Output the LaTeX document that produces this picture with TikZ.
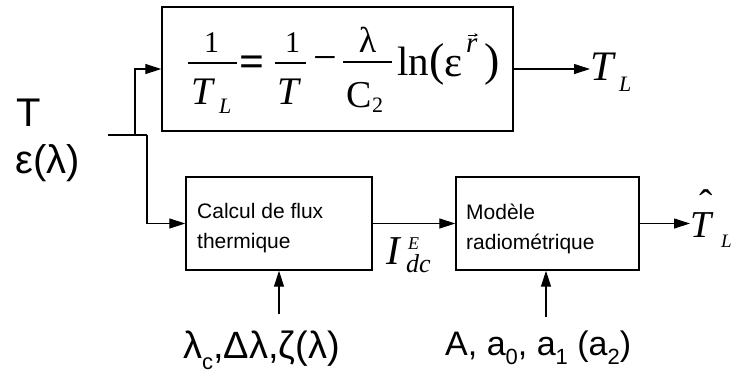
\documentclass[tikz,border=0pt]{standalone}
\usepackage{fontspec}
\setmainfont{Liberation Sans}
\newfontfamily\tms{Liberation Serif}
\usetikzlibrary{arrows.meta}
\newcommand{\fsz}[1]{\fontsize{#1}{#1}\selectfont}
\newcommand{\lowsub}[3]{\raisebox{-#2pt}{\fontsize{#1}{#1}\selectfont #3}}
\begin{document}
\begin{tikzpicture}[x=1pt,y=-1pt,
  boxstyle/.style={draw, line width=1.4pt, minimum height=93pt, inner sep=0pt},
  boxtext/.style={inner sep=0pt, anchor=base west, font=\fontsize{21}{21}\selectfont},
  wire/.style={line width=1.1pt},
  conn/.style={line width=1.1pt, -{Triangle[length=16pt,width=10pt]}},
  fbar/.style={line width=1.8pt},
  lbl/.style={inner sep=0pt},
  ml/.style={inner sep=0pt, anchor=base west},
  mc/.style={inner sep=0pt, anchor=base}]
\useasboundingbox (0,0) rectangle (737,376);

% top box and its formula
\node[draw, line width=1.4pt, minimum width=351pt, minimum height=124pt, inner sep=0pt] (eq) at (337.5,69) {};
\node[mc] (n1) at (211.5,52) {\tms\fsz{30}1};
\node[ml] (d1) at (191,104) {\tms\itshape\fsz{39}T};
\node[ml] (d1s) at (219,113) {\tms\itshape\fsz{22}L};
\node[inner sep=0pt] (eqs) at (252.5,66) {\tms\bfseries\fsz{44}=};
\node[mc] (n2) at (292.5,52) {\tms\fsz{30}1};
\node[ml] (d2) at (277,104) {\tms\itshape\fsz{39}T};
\node[inner sep=0pt] (minus) at (325,64) {\tms\fsz{42}−};
\node[mc] (n3) at (367.5,52) {\tms\fsz{36}λ};
\node[ml] (d3) at (346,107) {\tms\fsz{38}C};
\node[ml] (d3s) at (372,112) {\tms\fsz{22}2};
\node[ml] (ln) at (397,75) {\tms\fsz{41}ln};
\node[ml] (lp) at (429.5,75) {\tms\fsz{46}(};
\node[ml] (eps) at (444,76) {\tms\fsz{43}ε};
\node[ml] (rr) at (466,52) {\tms\itshape\fsz{29}r};
\node[ml] (rp) at (484,75) {\tms\fsz{46})};
\draw[fbar] (188,63) -- (237,63);
\draw[fbar] (275,63) -- (306,63);
\draw[fbar] (343,62) -- (392,62);
\draw[line width=0.7pt, -{Stealth[length=3.5pt,width=3.5pt]}] (468,35) -- (478,35);

% lower boxes
\node[boxstyle, minimum width=186pt] (flux) at (279,223.5) {};
\node[boxstyle, minimum width=183pt] (model) at (547.5,223.5) {};
\node[boxtext] (fluxA) at (197,218) {Calcul de flux};
\node[boxtext] (fluxB) at (197,248) {thermique};
\node[boxtext] (modelA) at (466,219) {Modèle};
\node[boxtext] (modelB) at (466,249) {radiométrique};

% labels
\node[lbl, anchor=base west] (inT) at (16,126) {\fsz{40}T};
\node[lbl, anchor=base west] (inE) at (15,173) {\fsz{40}ε(λ)};
\node[ml] (TL) at (590,80) {\tms\itshape\fsz{42}T};
\node[ml] (TLs) at (619,91) {\tms\itshape\fsz{22}L};
\node[ml] (Idc) at (386,264) {\tms\itshape\fsz{41}I};
\node[ml] (IdcE) at (408,249) {\tms\itshape\fsz{18}E};
\node[ml] (Idcs) at (406,272) {\tms\itshape\fsz{26}dc};
\node[ml] (That) at (690,237) {\tms\itshape\fsz{38}T};
\node[mc] (hat) at (706,217) {\tms\fsz{40}ˆ};
\node[ml] (Thats) at (721,247) {\tms\itshape\fsz{19}L};
\node[lbl, anchor=base west] (lam) at (183,358) {\fsz{38}λ\lowsub{22}{11}{c},Δλ,ζ(λ)};
\node[lbl, anchor=base west] (par) at (445,355) {\fsz{34}A, a\lowsub{22}{9}{0}, a\lowsub{22}{9}{1} (a\lowsub{22}{9}{2})};

% connectors
\coordinate (j0) at (108,135);
\coordinate (jup) at (135,135);
\coordinate (jdn) at (147,135);
\coordinate (lamin) at (279,314);
\coordinate (parin) at (546,317);
\draw[wire] (j0) -- (jdn);
\draw[conn] (jup) |- (eq.west);
\draw[conn] (jdn) |- (flux.west);
\draw[conn] (flux.east) -- (model.west);
\draw[conn] (eq.east) -- (eq.east -| TL.west);
\draw[conn] (model.east) -- (model.east -| That.west);
\draw[conn] (lamin) -- (lamin |- flux.south);
\draw[conn] (parin) -- (parin |- model.south);
\end{tikzpicture}
\end{document}
